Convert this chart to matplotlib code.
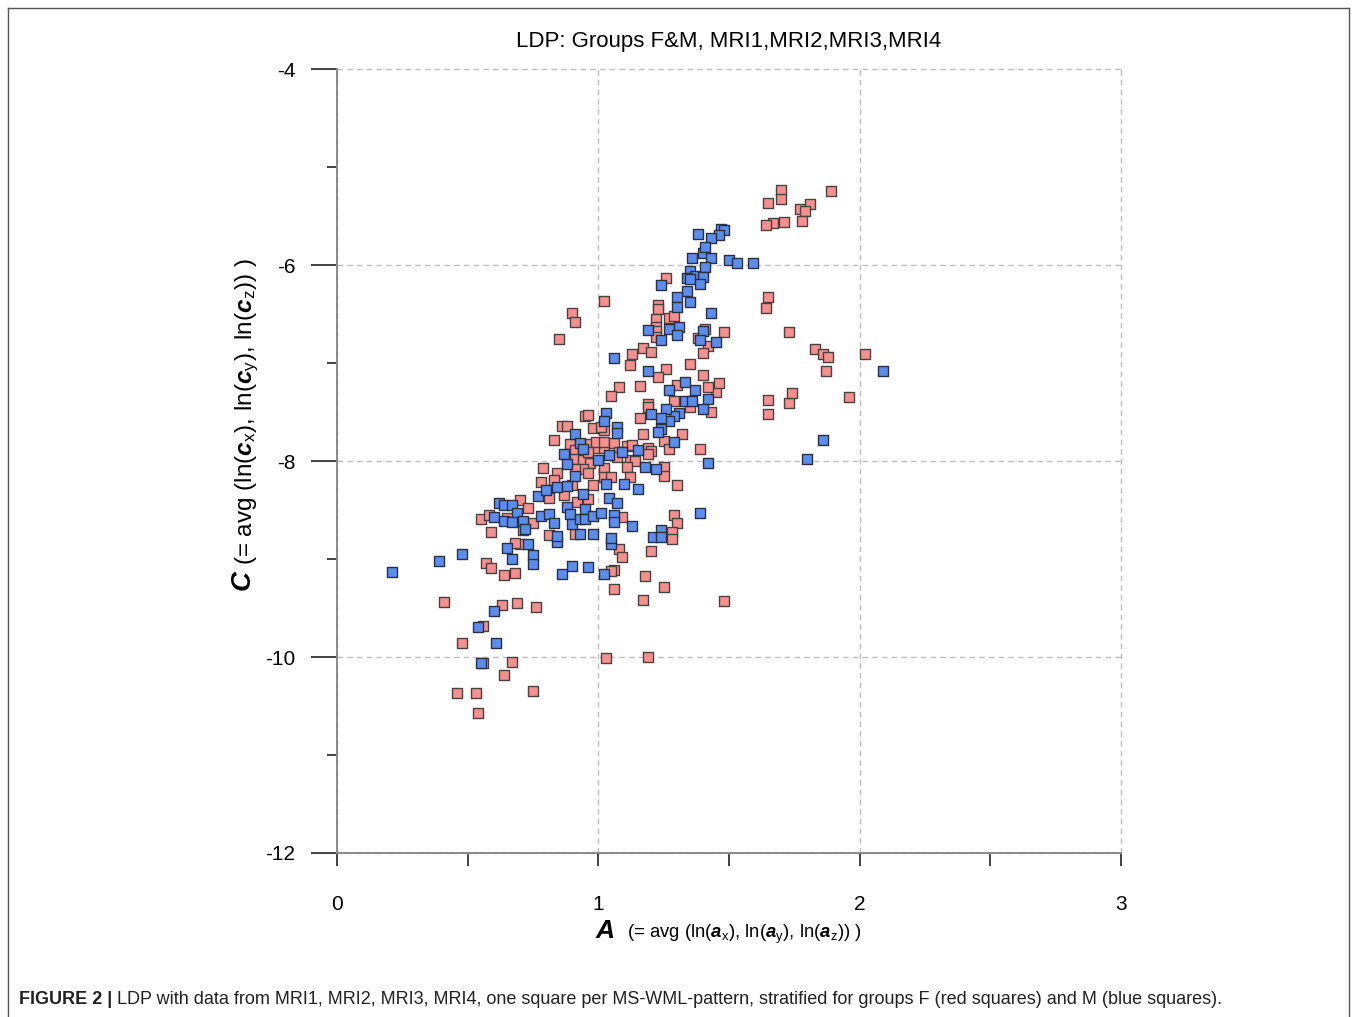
import matplotlib
matplotlib.use("Agg")
import matplotlib.pyplot as plt
from matplotlib.lines import Line2D
from matplotlib.ticker import MultipleLocator

plt.rcParams['font.family'] = ['Liberation Sans', 'DejaVu Sans']
plt.rcParams['mathtext.fontset'] = 'custom'
plt.rcParams['mathtext.rm'] = 'Liberation Sans'
plt.rcParams['mathtext.it'] = 'Liberation Sans:italic'
plt.rcParams['mathtext.bf'] = 'Liberation Sans:bold'
plt.rcParams['mathtext.bfit'] = 'Liberation Sans:bold:italic'

# group F (red squares): A values and C values
f_a = [0.41, 0.63, 0.69, 0.76, 0.56, 0.48, 0.56, 0.67, 0.64, 0.46, 0.53, 0.75, 0.54,
       1.03, 1.19, 0.57, 0.59, 0.64, 0.68, 1.06, 1.06, 1.05, 1.08, 1.09, 1.18, 1.25,
       1.17, 1.20, 0.70, 0.68, 0.59, 0.81, 0.91, 0.55, 0.58, 0.70, 0.73, 0.75, 0.71,
       0.81, 0.87, 0.92, 0.96, 0.98, 0.90, 0.83, 0.78, 1.09, 1.29, 1.30, 1.28, 1.28,
       1.30, 0.65,
       0.95, 0.96, 0.86, 0.88, 0.83, 0.89, 0.98, 1.02, 0.91, 0.94, 0.97, 0.99, 1.02,
       0.99, 0.91, 0.94, 0.97, 0.94, 0.91, 0.96, 1.02, 0.79, 0.84, 0.83, 1.02,
       1.08, 1.16, 1.05, 1.19, 1.19, 1.16, 1.01, 1.17, 1.02, 1.06, 1.11, 1.13, 1.19,
       1.20, 1.19, 1.25, 1.27, 1.32, 1.39, 0.96, 1.08, 1.12, 1.14, 1.11, 1.07, 1.25,
       1.25, 1.12, 1.05, 1.65, 1.73, 1.74, 1.65, 1.29, 1.35, 1.43, 1.45, 1.46, 1.42,
       1.30,
       1.26, 1.65, 1.64, 1.02, 1.23, 1.23, 1.22, 1.27, 1.29, 1.22, 1.22, 1.22, 1.41,
       1.38, 1.42, 1.40, 1.48, 1.73, 1.17, 1.20, 1.13, 1.12, 1.26, 1.35, 1.23, 1.40,
       1.83, 1.86, 1.88, 2.02, 1.87, 1.96,
       1.70, 1.70, 1.65, 1.89, 1.81, 1.77, 1.79, 1.78, 1.71, 1.67, 1.64,
       1.48, 0.85, 0.90, 0.91]
f_c = [-9.44, -9.47, -9.45, -9.49, -9.68, -9.86, -10.06, -10.05, -10.18, -10.37, -10.37,
       -10.35, -10.57, -10.01, -10.00, -9.04, -9.09, -9.16, -9.14, -9.31, -9.11, -9.12,
       -8.90, -8.98, -9.17, -9.29, -9.42, -8.92, -8.85, -8.84, -8.72, -8.76, -8.74,
       -8.59, -8.55, -8.40, -8.48, -8.63, -8.70, -8.38, -8.35, -8.42, -8.39, -8.24,
       -8.24, -8.21, -8.21, -8.57, -8.55, -8.63, -8.72, -8.80, -8.24, -8.58,
       -7.54, -7.53, -7.64, -7.64, -7.79, -7.83, -7.66, -7.68, -7.89, -7.89, -7.83,
       -7.87, -7.87, -7.81, -7.98, -7.99, -8.02, -8.08, -8.08, -8.12, -8.07, -8.07,
       -8.12, -8.19, -8.16,
       -7.24, -7.23, -7.34, -7.42, -7.45, -7.56, -7.65, -7.72, -7.81, -7.82, -7.85,
       -7.84, -7.87, -7.90, -7.93, -7.80, -7.88, -7.72, -7.88, -7.91, -7.91, -7.99,
       -8.00, -8.06, -7.96, -8.06, -8.15, -8.16, -8.16, -7.38, -7.41, -7.31, -7.52,
       -7.39, -7.45, -7.50, -7.30, -7.20, -7.24, -7.22,
       -6.13, -6.33, -6.44, -6.37, -6.41, -6.45, -6.55, -6.54, -6.52, -6.63, -6.67,
       -6.73, -6.65, -6.74, -6.83, -6.90, -6.68, -6.68, -6.85, -6.89, -6.91, -7.02,
       -7.06, -7.01, -7.14, -7.12, -6.86, -6.91, -6.94, -6.91, -7.08, -7.35,
       -5.23, -5.33, -5.37, -5.24, -5.38, -5.43, -5.45, -5.55, -5.56, -5.57, -5.59,
       -9.43, -6.75, -6.49, -6.58]

# group M (blue squares)
m_a = [0.21, 0.39, 0.48, 0.54, 0.60, 0.61, 0.55, 0.65, 0.67, 0.73, 0.75, 0.75, 0.86,
       0.90, 0.96, 1.02, 1.05, 1.05, 0.84, 0.84, 0.93, 0.98, 1.13, 1.21, 1.24, 1.24,
       0.62, 0.64, 0.67, 0.69, 0.60, 0.64, 0.67, 0.71, 0.72, 0.77, 0.80, 0.78, 0.81,
       0.83, 0.84, 0.88, 0.88, 0.89, 0.90, 0.94, 0.95, 0.93, 0.95, 0.98, 1.01, 1.04,
       1.07, 1.06, 1.06, 1.03, 1.10, 1.15,
       1.03, 1.02, 0.91, 0.93, 0.94, 0.87, 0.88, 1.00, 0.91, 1.33, 1.07, 1.07, 1.04,
       1.09, 1.15, 1.18, 1.22, 1.42, 1.39, 1.27, 1.37, 1.42, 1.40, 1.33, 1.36, 1.31,
       1.29, 1.27, 1.26, 1.24, 1.20, 1.24, 1.23, 1.29,
       1.36, 1.40, 1.43, 1.41, 1.50, 1.53, 1.59, 1.35, 1.37, 1.40, 1.34, 1.35, 1.39,
       1.24, 1.34, 1.35, 1.30, 1.30, 1.43, 1.19, 1.27, 1.31, 1.30, 1.24, 1.40, 1.39,
       1.45, 1.06, 1.19, 2.09, 1.86, 1.80,
       1.38, 1.47, 1.48, 1.46, 1.43, 1.41]
m_c = [-9.13, -9.02, -8.95, -9.69, -9.53, -9.86, -10.06, -8.89, -9.00, -8.85, -8.96,
       -9.05, -9.15, -9.07, -9.08, -9.15, -8.85, -8.79, -8.83, -8.77, -8.74, -8.74,
       -8.66, -8.78, -8.70, -8.78,
       -8.43, -8.45, -8.45, -8.53, -8.57, -8.61, -8.62, -8.61, -8.69, -8.36, -8.30,
       -8.56, -8.54, -8.63, -8.27, -8.26, -8.47, -8.54, -8.64, -8.34, -8.49, -8.59,
       -8.59, -8.56, -8.53, -8.38, -8.43, -8.55, -8.62, -8.23, -8.23, -8.29,
       -7.51, -7.59, -7.72, -7.82, -7.88, -7.93, -8.03, -7.99, -8.15, -7.19, -7.65,
       -7.71, -7.94, -7.91, -7.89, -8.06, -8.08, -8.02, -8.53, -7.28, -7.28, -7.37,
       -7.47, -7.39, -7.39, -7.51, -7.54, -7.59, -7.47, -7.56, -7.52, -7.67, -7.70,
       -7.81,
       -5.93, -5.88, -5.93, -6.02, -5.95, -5.98, -5.98, -6.06, -6.11, -6.12, -6.13,
       -6.14, -6.19, -6.20, -6.27, -6.38, -6.33, -6.43, -6.49, -6.66, -6.65, -6.63,
       -6.71, -6.77, -6.67, -6.77, -6.79, -6.95, -7.08, -7.08, -7.79, -7.98,
       -5.68, -5.63, -5.64, -5.69, -5.72, -5.82]

title = "LDP: Groups F&M, MRI1,MRI2,MRI3,MRI4"
caption_bold = "FIGURE 2 |"
caption = (" LDP with data from MRI1, MRI2, MRI3, MRI4, one square per MS-WML-pattern, "
           "stratified for groups F (red squares) and M (blue squares).")

W, H = 1357, 1017
fig = plt.figure(figsize=(W / 100, H / 100), dpi=100)
ax = fig.add_axes([337 / W, 1 - 853 / H, (1121 - 337) / W, (853 - 69) / H])

ax.scatter(f_a, f_c, marker='s', s=50, facecolor='#f4918f', edgecolor='#4a4040',
           linewidths=1.0, zorder=3)
ax.scatter(m_a, m_c, marker='s', s=50, facecolor='#5b8def', edgecolor='#2b3040',
           linewidths=1.0, zorder=4)

ax.set_xlim(0, 3)
ax.set_ylim(-12, -4)
ax.xaxis.set_major_locator(MultipleLocator(1))
ax.xaxis.set_minor_locator(MultipleLocator(0.5))
ax.yaxis.set_major_locator(MultipleLocator(2))
ax.yaxis.set_minor_locator(MultipleLocator(1))
ax.grid(True, which='major', linestyle=(0, (4, 3)), color='#bdbdbd', linewidth=1.0)
ax.set_axisbelow(True)
for gl in ax.get_xgridlines() + ax.get_ygridlines():
    gl.set_clip_on(False)

for side in ['top', 'right']:
    ax.spines[side].set_visible(False)
for side in ['left', 'bottom']:
    ax.spines[side].set_color('#8a8a8a')
    ax.spines[side].set_linewidth(1.4)

ax.tick_params(axis='y', which='major', length=19, width=1.2, color='#222222',
               labelsize=15, pad=11)
ax.tick_params(axis='y', which='minor', length=7, width=1.2, color='#222222')
ax.tick_params(axis='x', which='both', length=9.5, width=1.2, color='#222222',
               labelsize=15, pad=21)
ax.set_yticks([-4, -6, -8, -10, -12])
ax.set_yticklabels(['-4', '-6', '-8', '-10', '-12'])

fig.text(729 / W, 1 - 42 / H, title, ha='center', va='center', fontsize=16)

# x label
fig.text(605 / W, 1 - 931 / H, r"$\mathbfit{A}$", ha='center', va='center', fontsize=19)
fig.text(627 / W, 1 - 934 / H,
         r"(= avg (ln($\mathbfit{a}_{\mathrm{x}}$), ln($\mathbfit{a}_{\mathrm{y}}$), "
         r"ln($\mathbfit{a}_{\mathrm{z}}$)) )",
         ha='left', va='center', fontsize=13.3)

# y label
fig.text(244 / W, 1 - 581 / H, r"$\mathbfit{C}$", ha='center', va='center',
         fontsize=20, rotation=90)
fig.text(247 / W, 1 - 565 / H,
         r"(= avg (ln($\mathbfit{c}_{\mathrm{x}}$), ln($\mathbfit{c}_{\mathrm{y}}$), "
         r"ln($\mathbfit{c}_{\mathrm{z}}$)) )",
         ha='center', va='bottom', fontsize=17.5, rotation=90)

# figure frame
frame = dict(color='#555555', linewidth=1.0, transform=fig.transFigure)
fig.add_artist(Line2D([8 / W, 8 / W], [0, 1 - 8 / H], **frame))
fig.add_artist(Line2D([1349 / W, 1349 / W], [0, 1 - 8 / H], **frame))
fig.add_artist(Line2D([8 / W, 1349 / W], [1 - 8 / H, 1 - 8 / H], **frame))

# caption
t1 = fig.text(19 / W, 1 - 1000 / H, caption_bold, ha='left', va='center',
              fontsize=13, fontweight='bold', color='#222222')
fig.canvas.draw()
bb = t1.get_window_extent(renderer=fig.canvas.get_renderer())
fig.text(bb.x1 / W, 1 - 1000 / H, caption, ha='left', va='center',
         fontsize=13, color='#222222')

fig.savefig('out.png', dpi=100)
